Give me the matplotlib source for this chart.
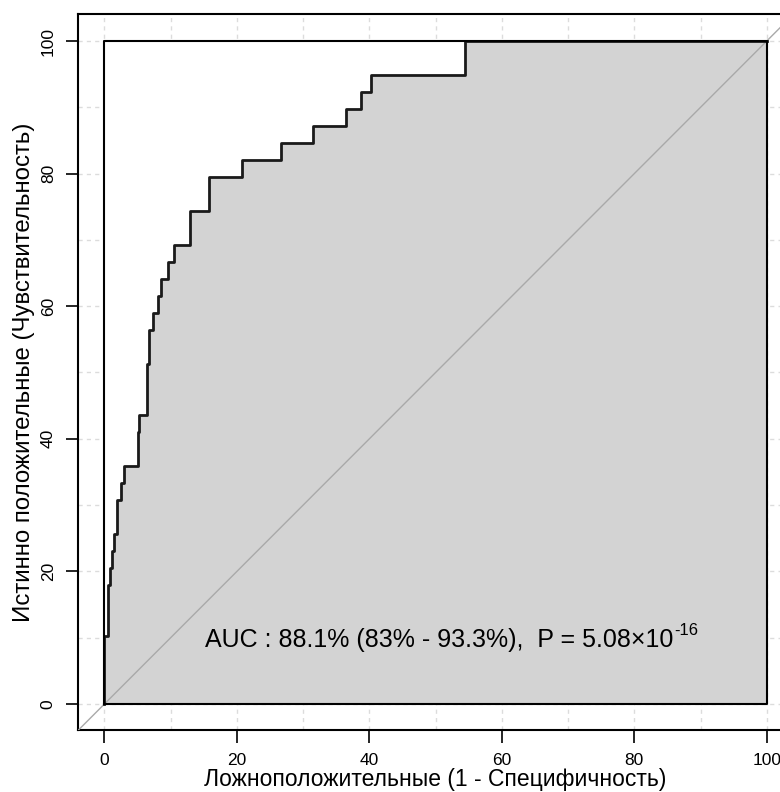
import matplotlib
matplotlib.use("Agg")
import matplotlib.pyplot as plt

# ROC staircase corners: false positive rate (%) and the sensitivity (%) reached there
fpr = [0, 0.48, 0.8, 1.09, 1.43, 1.89, 2.45, 2.94, 5.1, 5.25, 6.37, 6.76, 7.37,
       8.03, 8.48, 9.54, 10.54, 12.9, 15.8, 20.75, 26.6, 31.5, 36.4, 38.7, 40.2,
       54.4, 100]
tpr = [10.26, 17.95, 20.51, 23.08, 25.64, 30.77, 33.33, 35.9, 41.03, 43.59,
       51.28, 56.41, 58.97, 61.54, 64.1, 66.67, 69.23, 74.36, 79.49, 82.05,
       84.62, 87.18, 89.74, 92.31, 94.87, 100, 100]

auc_text = "AUC : 88.1% (83% - 93.3%),  P = 5.08\u00d710"
p_exp = "-16"

x_ticks = [0, 20, 40, 60, 80, 100]
y_ticks = [0, 20, 40, 60, 80, 100]
grid_pos = list(range(0, 101, 10))

narrow = ["Liberation Sans Narrow", "Liberation Sans", "DejaVu Sans"]
regular = ["Liberation Sans", "DejaVu Sans"]

fig = plt.figure(figsize=(7.8, 7.92), dpi=100)
ax = fig.add_axes([0.1, 0.0777, 0.917, 0.904])
ax.set_xlim(-4, 104)
ax.set_ylim(-4, 104)

# dotted grid, only visible outside the unit square
for g in grid_pos:
    ax.axvline(g, color="#dcdcdc", lw=1, ls=(0, (3, 3)), zorder=0)
    ax.axhline(g, color="#dcdcdc", lw=1, ls=(0, (3, 3)), zorder=0)
ax.fill([0, 100, 100, 0], [0, 0, 100, 100], color="white", zorder=1)

xs = [0] + fpr
ys = [0] + tpr
ax.fill_between(xs, ys, 0, step="post", color="#d3d3d3", lw=0, zorder=2)
ax.plot([-4, 104], [-4, 104], color="#a9a9a9", lw=1, zorder=3)
ax.step(xs, ys, where="post", color="#1a1a1a", lw=2, zorder=4)
ax.plot([0, 100, 100, 0, 0], [0, 0, 100, 100, 0], color="black", lw=1.5, zorder=5)

t = ax.text(15.2, 8.6, auc_text, fontsize=18, family=regular, va="baseline",
            ha="left", zorder=6)
ax.annotate(p_exp, xy=(1, 1), xycoords=t, xytext=(0.5, -2), textcoords="offset points",
            fontsize=12, family=regular, va="center", ha="left", zorder=6)

for s in ax.spines.values():
    s.set_linewidth(1.5)

ax.set_xticks(x_ticks)
ax.set_yticks(y_ticks)
ax.tick_params(length=9, width=1.2, pad=7)
for lab in ax.get_xticklabels():
    lab.set_family(narrow)
    lab.set_fontsize(12.5)
for lab in ax.get_yticklabels():
    lab.set_family(narrow)
    lab.set_fontsize(12.5)
    lab.set_rotation(90)
    lab.set_va("center")

ax.set_xlabel("Ложноположительные (1 - Специфичность)", family=narrow,
              fontsize=16.5, va="bottom")
ax.xaxis.set_label_coords(0.5, -0.084)
ax.set_ylabel("Истинно положительные (Чувствительность)", family=regular,
              fontsize=17.3, labelpad=4)

fig.savefig("out.png", dpi=100)
